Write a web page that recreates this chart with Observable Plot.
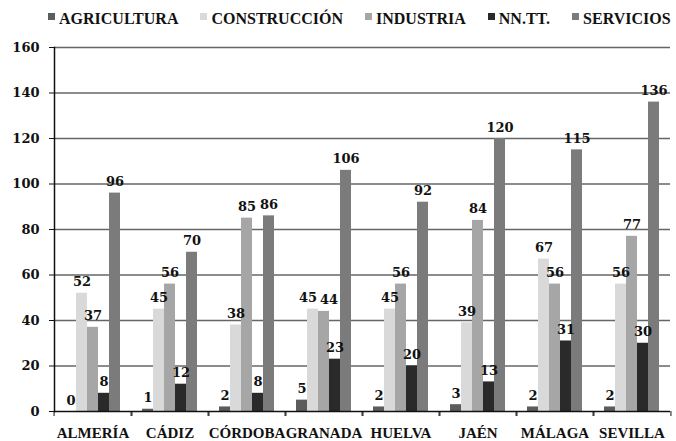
<!DOCTYPE html>
<html>
<head>
<meta charset="utf-8">
<script src="https://cdn.jsdelivr.net/npm/d3@7"></script>
<script src="https://cdn.jsdelivr.net/npm/@observablehq/plot@0.6"></script>
<style>
  html, body { margin: 0; padding: 0; background: #fff; }
  #wrap { width: 676px; height: 441px; overflow: hidden; }
  #legend { height: 36px; box-sizing: border-box; padding-top: 10px; padding-left: 48px; display: flex; align-items: flex-start;
    font-family: "Liberation Serif", serif; font-weight: bold; font-size: 16px; line-height: 18px; color: #111; white-space: nowrap; }
  .item { display: flex; align-items: flex-start; margin-right: 22px; }
  .sw { width: 7px; height: 7px; margin-top: 3px; margin-right: 4px; }
  svg { display: block; }
</style>
</head>
<body>
<div id="wrap">
  <div id="legend"></div>
  <div id="chart"></div>
</div>
<script>
const provinces = ["ALMERÍA", "CÁDIZ", "CÓRDOBA", "GRANADA", "HUELVA", "JAÉN", "MÁLAGA", "SEVILLA"];
const sectors = ["AGRICULTURA", "CONSTRUCCIÓN", "INDUSTRIA", "NN.TT.", "SERVICIOS"];
const agricultura = [0, 1, 2, 5, 2, 3, 2, 2];
const construccion = [52, 45, 38, 45, 45, 39, 67, 56];
const industria = [37, 56, 85, 44, 56, 84, 56, 77];
const nntt = [8, 12, 8, 23, 20, 13, 31, 30];
const servicios = [96, 70, 86, 106, 92, 120, 115, 136];
const yTicks = [0, 20, 40, 60, 80, 100, 120, 140, 160];
const colors = ["#5c5c5c", "#d9d9d9", "#a6a6a6", "#2a2a2a", "#7b7b7b"];

const seriesValues = [agricultura, construccion, industria, nntt, servicios];
const data = [];
provinces.forEach((p, i) => {
  const row = sectors.map((s, j) => ({province: p, sector: s, value: seriesValues[j][i], shift: 0}));
  // nudge apart labels of adjacent bars with nearly equal heights (like the spreadsheet does)
  for (let j = 0; j < row.length - 1; j++) {
    if (Math.abs(row[j].value - row[j + 1].value) < 6 && row[j].value >= 10) {
      row[j].shift = -1; row[j + 1].shift = 1;
    }
  }
  data.push(...row);
});

// Legend
const legend = document.getElementById("legend");
sectors.forEach((s, j) => {
  const it = document.createElement("div");
  it.className = "item";
  const sw = document.createElement("div");
  sw.className = "sw";
  sw.style.background = colors[j];
  const tx = document.createElement("span");
  tx.textContent = s;
  it.appendChild(sw); it.appendChild(tx);
  legend.appendChild(it);
});

const W = 676, H = 405, ML = 50, MR = 3, MT = 11, MB = 30;
const half = (W - ML - MR) / provinces.length / 2;
const numFont = "'DejaVu Serif', serif";
const catFont = "'Liberation Serif', serif";
const labelStyle = {fontFamily: numFont, fontWeight: "bold", fontSize: 13, fill: "#111", lineAnchor: "bottom", dy: -7};

const chart = Plot.plot({
  width: W, height: H,
  marginLeft: ML, marginRight: MR, marginTop: MT, marginBottom: MB,
  style: {background: "#fff", color: "#111", overflow: "visible"},
  fx: {domain: provinces, padding: 0},
  x: {domain: sectors, paddingInner: 0, paddingOuter: 0.85, axis: null},
  y: {domain: [0, 160]},
  color: {domain: sectors, range: colors},
  marks: [
    Plot.gridY(yTicks.filter(t => t > 0), {stroke: "#666", strokeOpacity: 1, strokeWidth: 1.5}),
    Plot.barY(data, {fx: "province", x: "sector", y: "value", fill: "sector"}),
    ...[-1, 0, 1].map(s => Plot.text(data.filter(d => d.shift === s),
      {fx: "province", x: "sector", y: "value", text: d => String(d.value), ...labelStyle, dx: s * 5})),
    Plot.ruleY([0], {stroke: "#111", strokeWidth: 1.5}),
    Plot.frame({anchor: "left", facetAnchor: "left", stroke: "#111", strokeWidth: 1.5}),
    Plot.axisY({ticks: yTicks, tickSize: 5, tickPadding: 10, label: null, stroke: "#111"}),
    Plot.axisFx({anchor: "bottom", tickSize: 5, tickFormat: () => "", dx: -half, label: null, stroke: "#111"}),
    Plot.axisFx({anchor: "bottom", tickSize: 5, tickFormat: () => "", dx: half, label: null, stroke: "#111"}),
    Plot.axisFx({anchor: "bottom", tickSize: 0, tickPadding: 16, label: null})
  ]
});
const svg = d3.select(chart);
svg.selectAll('g[aria-label="y-axis tick label"]')
  .style("font-family", numFont).style("font-weight", "bold").style("font-size", "13px").style("fill", "#111");
svg.selectAll('g[aria-label="fx-axis tick label"]')
  .style("font-family", catFont).style("font-weight", "bold").style("font-size", "15px").style("fill", "#111");
document.getElementById("chart").appendChild(chart);
</script>
</body>
</html>
